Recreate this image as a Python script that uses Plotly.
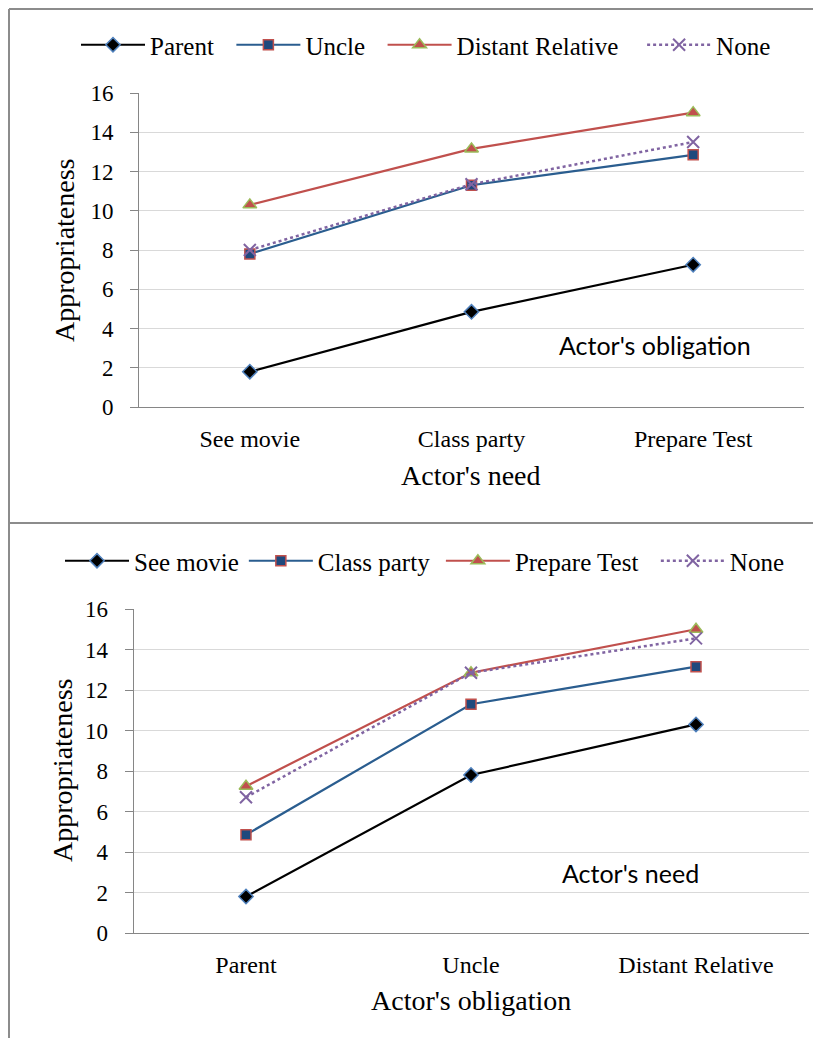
import plotly.graph_objects as go

# Top chart: x = Actor's need, series = Actor's obligation
need_cats = ["See movie", "Class party", "Prepare Test"]
top_names = ["Parent", "Uncle", "Distant Relative", "None"]
top_parent = [1.8, 4.85, 7.25]
top_uncle = [7.8, 11.3, 12.85]
top_distant = [10.3, 13.15, 15.0]
top_none = [8.0, 11.35, 13.5]

# Bottom chart: x = Actor's obligation, series = Actor's need
obl_cats = ["Parent", "Uncle", "Distant Relative"]
bot_names = ["See movie", "Class party", "Prepare Test", "None"]
bot_movie = [1.8, 7.8, 10.3]
bot_party = [4.85, 11.3, 13.15]
bot_test = [7.25, 12.85, 15.0]
bot_none = [6.7, 12.85, 14.55]

y_ticks = [0, 2, 4, 6, 8, 10, 12, 14, 16]

# page body has an 8px margin, so the figure is sized to fit inside the window
OFF = 8
W, H = 821 - 2 * OFF, 1046 - 2 * OFF
SERIF = "Liberation Serif"
NB = "\u00a0"


def px(x):
    return (x - OFF) / W


def py(y):
    return 1 - (y - OFF) / H


styles = [
    dict(line=dict(color="#000000", width=2.2),
         marker=dict(symbol="diamond", size=11, color="#000000",
                     line=dict(color="#4F81BD", width=1.5))),
    dict(line=dict(color="#2A5D8F", width=2.2),
         marker=dict(symbol="square", size=10, color="#1F497D",
                     line=dict(color="#C0504D", width=1.5))),
    dict(line=dict(color="#C0504D", width=2.2),
         marker=dict(symbol="triangle-up", size=12, color="#C0504D",
                     line=dict(color="#9BBB59", width=1.5))),
    dict(line=dict(color="#8064A2", width=2.5, dash="dot"),
         marker=dict(symbol="x-thin", size=12, color="#8064A2",
                     line=dict(color="#8064A2", width=2))),
]

fig = go.Figure()

top_series = [top_parent, top_uncle, top_distant, top_none]
top_pad = [NB * 2, NB * 2, NB * 3, ""]
for name, vals, st, pad in zip(top_names, top_series, styles, top_pad):
    fig.add_trace(go.Scatter(x=need_cats, y=vals, name=name + pad, mode="lines+markers",
                             xaxis="x", yaxis="y", legend="legend", **st))

bot_series = [bot_movie, bot_party, bot_test, bot_none]
bot_pad = ["", NB, NB * 2, ""]
for name, vals, st, pad in zip(bot_names, bot_series, styles, bot_pad):
    fig.add_trace(go.Scatter(x=obl_cats, y=vals, name=name + pad, mode="lines+markers",
                             xaxis="x2", yaxis="y2", legend="legend2", **st))


def yax(domain, anchor):
    return dict(domain=domain, anchor=anchor, range=[0, 16], tickvals=y_ticks,
                showgrid=True, gridcolor="#D9D9D9", gridwidth=1,
                showline=True, linecolor="#868686", linewidth=1,
                ticks="outside", ticklen=8, tickcolor="#868686",
                ticklabelstandoff=12,
                tickfont=dict(family=SERIF, size=23, color="#000000"),
                zeroline=False, automargin=False, fixedrange=True)


def xax(domain, anchor):
    return dict(domain=domain, anchor=anchor, type="category", range=[-0.5, 2.5],
                showgrid=False, showline=True, linecolor="#868686", linewidth=1,
                ticks="", ticklabelstandoff=10,
                tickfont=dict(family=SERIF, size=24, color="#000000"),
                zeroline=False, automargin=False, fixedrange=True)


fig.update_layout(
    width=W, height=H,
    margin=dict(l=0, r=0, t=0, b=0),
    paper_bgcolor="#FFFFFF", plot_bgcolor="#FFFFFF",
    xaxis=xax([px(139), px(804)], "y"),
    yaxis=yax([py(407), py(93)], "x"),
    xaxis2=xax([px(133.5), px(808.5)], "y2"),
    yaxis2=yax([py(933), py(609)], "x2"),
    legend=dict(orientation="h", x=px(76), xanchor="left", y=py(45), yanchor="middle",
                font=dict(family=SERIF, size=25, color="#000000"), itemwidth=64,
                bgcolor="rgba(0,0,0,0)"),
    legend2=dict(orientation="h", x=px(60), xanchor="left", y=py(561), yanchor="middle",
                 font=dict(family=SERIF, size=25, color="#000000"), itemwidth=64,
                 bgcolor="rgba(0,0,0,0)"),
    showlegend=True,
)

# chart borders (open on the right, as in the cropped reference)
border = dict(color="#8C8C8C", width=2)
for x0, y0, x1, y1 in [
    (9, 9, 830, 9), (9, 9, 9, 523), (9, 523, 830, 523),   # top chart
    (9, 523, 9, 1060),                                     # bottom chart left edge
]:
    fig.add_shape(type="line", xref="paper", yref="paper",
                  x0=px(x0), y0=py(y0), x1=px(x1), y1=py(y1), line=border, layer="below")

annots = [
    dict(text="Appropriateness", x=65, y=250, textangle=-90,
         font=dict(family=SERIF, size=28)),
    dict(text="Appropriateness", x=62, y=770, textangle=-90,
         font=dict(family=SERIF, size=28)),
    dict(text="Actor's need", x=471, y=476,
         font=dict(family=SERIF, size=28)),
    dict(text="Actor's obligation", x=471, y=1000,
         font=dict(family=SERIF, size=28)),
    dict(text="Actor's obligation", x=655, y=345,
         font=dict(family="Lato", size=25)),
    dict(text="Actor's need", x=630, y=873,
         font=dict(family="Lato", size=25)),
]
for a in annots:
    fig.add_annotation(xref="paper", yref="paper", showarrow=False,
                       xanchor="center", yanchor="middle",
                       x=px(a["x"]), y=py(a["y"]), text=a["text"],
                       textangle=a.get("textangle", 0),
                       font=dict(color="#000000", **a["font"]))

fig.write_html("out.html", config={"displayModeBar": False})
